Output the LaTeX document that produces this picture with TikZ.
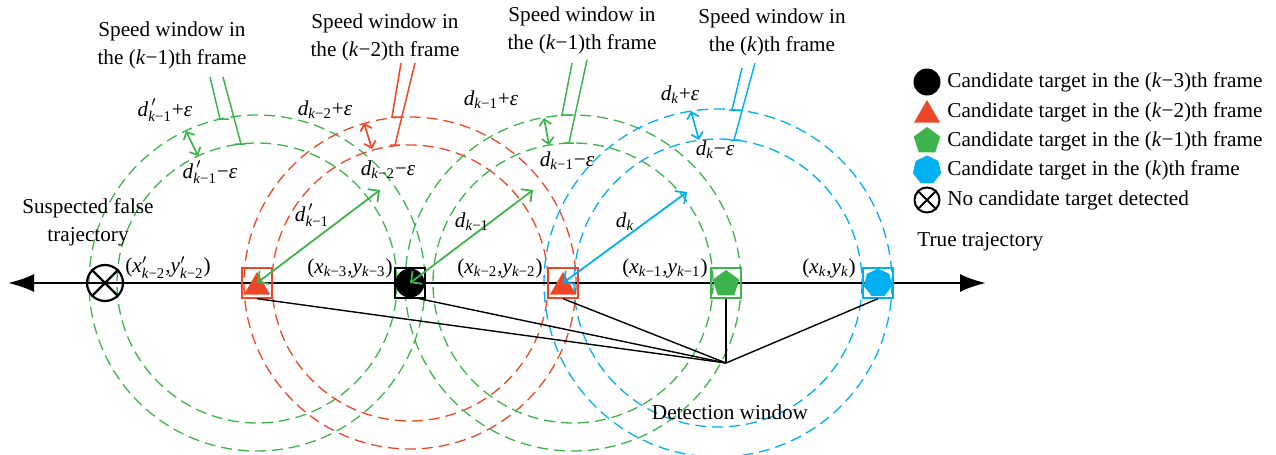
\documentclass[tikz,border=0pt]{standalone}
\usepackage{amsmath}
\usepackage{fontspec}
\setmainfont{Liberation Serif}
\usetikzlibrary{arrows.meta,shapes.geometric}
\definecolor{cg}{RGB}{60,180,75}
\definecolor{cr}{RGB}{236,72,40}
\definecolor{cc}{RGB}{0,176,240}
\newcommand{\ki}[1]{\text{\textit{k}#1}}
\begin{document}
\begin{tikzpicture}[x=0.5pt,y=-0.5pt,
  every node/.style={font=\fontsize{10.6}{14}\selectfont, inner sep=0pt},
  ring/.style={dash pattern=on 5.5pt off 3pt, line width=0.65pt},
  lead/.style={line width=0.75pt},
  gap/.style={line width=0.85pt, {Straight Barb[length=3pt,width=6pt]}-{Straight Barb[length=3pt,width=6pt]}},
  rad/.style={line width=0.9pt, {Straight Barb[length=4pt,width=8pt]}-{Straight Barb[length=4pt,width=8pt]}},
  box/.style={draw, line width=0.65pt, minimum size=15pt, inner sep=0pt},
  link/.style={line width=0.7pt},
  tri/.style={regular polygon, regular polygon sides=3, fill=cr, minimum size=15pt, inner sep=0pt},
  pent/.style={regular polygon, regular polygon sides=5, fill=cg, minimum size=14pt, inner sep=0pt},
  hept/.style={regular polygon, regular polygon sides=7, fill=cc, minimum size=14.5pt, inner sep=0pt},
  dot/.style={circle, fill=black, minimum size=13.5pt, inner sep=0pt},
  none/.style={circle, draw, line width=1.1pt, inner sep=0pt},
]
\useasboundingbox (0,0) rectangle (1276,455);
% speed-window rings
\begin{scope}
\clip (0,0) rectangle (1276,455);
\draw[ring,cg] (257,283) circle[radius=140];
\draw[ring,cg] (257,283) circle[radius=168];
\draw[ring,cr] (410,283) circle[radius=138];
\draw[ring,cr] (410,283) circle[radius=166];
\draw[ring,cg] (573,283) circle[radius=140];
\draw[ring,cg] (573,283) circle[radius=168];
\draw[ring,cc] (718,283) circle[radius=144];
\draw[ring,cc] (718,283) circle[radius=174];
\end{scope}

% axis
\coordinate (axL) at (8,283);
\coordinate (axR) at (986,283);
\draw[line width=1.25pt, {Latex[length=13pt,width=9pt]}-{Latex[length=13pt,width=9pt]}] (axL) -- (axR);

% markers
\node[none, minimum size=18pt] (m0) at (105,283) {};
\draw[line width=1.1pt] (m0.45) -- (m0.225) (m0.135) -- (m0.315);
\node[tri] (s1) at (257,287) {};
\node[box, cr] (m1) at (257,283) {};
\node[dot, minimum size=14.5pt] (s2) at (410,283) {};
\node[box, black] (m2) at (410,283) {};
\node[tri] (s3) at (563,287) {};
\node[box, cr] (m3) at (563,283) {};
\node[pent] (s4) at (726,284) {};
\node[box, cg] (m4) at (726,283) {};
\node[hept] (s5) at (878,283) {};
\node[box, cc] (m5) at (878,283) {};

% detection window
\coordinate (dw) at (726,363);
\draw[link] (m1.south) -- (dw);
\draw[link] (m2.-60) -- (dw);
\draw[link] (m3.south) -- (dw);
\draw[link] (m4.south) -- (dw);
\draw[link] (m5.south) -- (dw);
\node (dwl) at (730,412) {Detection window};

% radius arrows
\coordinate (a1) at (380,190);
\coordinate (a2) at (533,190);
\coordinate (a3) at (687,192);
\draw[rad,cg] (m1.center) -- (a1);
\draw[rad,cg] (m2.center) -- (a2);
\draw[rad,cc] (m3.center) -- (a3);
\node (r1) at (312,215) {$\textit{d}^{\,\prime}_{\ki{−1}}$};
\node (r2) at (472,222) {$\textit{d}_{\ki{−1}}$};
\node (r3) at (625,222) {$\textit{d}_{\textit{k}}$};

% ring gaps
\coordinate (g1a) at (186,131); \coordinate (g1b) at (198,156);
\coordinate (g2a) at (364,123); \coordinate (g2b) at (372,149);
\coordinate (g3a) at (544,118); \coordinate (g3b) at (549,145);
\coordinate (g4a) at (691,111); \coordinate (g4b) at (699,140);
\draw[gap,cg] (g1a) -- (g1b);
\draw[gap,cr] (g2a) -- (g2b);
\draw[gap,cg] (g3a) -- (g3b);
\draw[gap,cc] (g4a) -- (g4b);
\node (e1p) at (165,110) {$\textit{d}^{\,\prime}_{\ki{−1}}$+\textit{ε}};
\node (e1m) at (210,172) {$\textit{d}^{\,\prime}_{\ki{−1}}$−\textit{ε}};
\node (e2p) at (325,110) {$\textit{d}_{\ki{−2}}$+\textit{ε}};
\node (e2m) at (388,170) {$\textit{d}_{\ki{−2}}$−\textit{ε}};
\node (e3p) at (491,100) {$\textit{d}_{\ki{−1}}$+\textit{ε}};
\node (e3m) at (567,161) {$\textit{d}_{\ki{−1}}$−\textit{ε}};
\node (e4p) at (680,95) {$\textit{d}_{\textit{k}}$+\textit{ε}};
\node (e4m) at (715,150) {$\textit{d}_{\textit{k}}$−\textit{ε}};

% speed window labels and leaders
\node[align=center] (w1) at (172,45) {Speed window in\\the (\textit{k}−1)th frame};
\node[align=center] (w2) at (385,37) {Speed window in\\the (\textit{k}−2)th frame};
\node[align=center] (w3) at (582,30) {Speed window in\\the (\textit{k}−1)th frame};
\node[align=center] (w4) at (772,32) {Speed window in\\the (\textit{k})th frame};
\coordinate (w1a) at (210,77); \coordinate (w1b) at (220,119);
\coordinate (w1c) at (223,77); \coordinate (w1d) at (241,144);
\coordinate (w2a) at (401,63); \coordinate (w2b) at (392,117);
\coordinate (w2c) at (415,63); \coordinate (w2d) at (395,145);
\coordinate (w3a) at (572,63); \coordinate (w3b) at (562,115);
\coordinate (w3c) at (587,60); \coordinate (w3d) at (569,143);
\coordinate (w4a) at (742,68); \coordinate (w4b) at (732,110);
\coordinate (w4c) at (755,63); \coordinate (w4d) at (734,140);
\draw[lead,cg] (w1a) -- (w1b) ++(-3,0) -- ++(12,0);
\draw[lead,cg] (w1c) -- (w1d) ++(-6,0) -- ++(10,0);
\draw[lead,cr] (w2a) -- (w2b) ++(-1,0) -- ++(11,0);
\draw[lead,cr] (w2c) -- (w2d) ++(-5,0) -- ++(10,0);
\draw[lead,cg] (w3a) -- (w3b) ++(-1,0) -- ++(11,0);
\draw[lead,cg] (w3c) -- (w3d) ++(-5,0) -- ++(10,0);
\draw[lead,cc] (w4a) -- (w4b) ++(-3,0) -- ++(12,0);
\draw[lead,cc] (w4c) -- (w4d) ++(-4,0) -- ++(10,0);

% coordinate labels
\node (c0) at (168,268) {(\textit{x}$^{\prime}_{\ki{−2}}$,\textit{y}$^{\prime}_{\ki{−2}}$)};
\node (c1) at (350,268) {(\textit{x}$_{\ki{−3}}$,\textit{y}$_{\ki{−3}}$)};
\node (c2) at (500,268) {(\textit{x}$_{\ki{−2}}$,\textit{y}$_{\ki{−2}}$)};
\node (c3) at (665,268) {(\textit{x}$_{\ki{−1}}$,\textit{y}$_{\ki{−1}}$)};
\node (c4) at (829,268) {(\textit{x}$_{\textit{k}}$,\textit{y}$_{\textit{k}}$)};
\node[align=center] (sft) at (88,222) {Suspected false\\trajectory};
\node[anchor=west] (tt) at (917,242) {True trajectory};

% legend
\node[dot] (l1) at (927,82) {};
\node[tri] (l2) at (927,115) {};
\node[pent] (l3) at (927,141) {};
\node[hept] (l4) at (927,170) {};
\node[none, minimum size=12.5pt, line width=1pt] (l5) at (927,200) {};
\draw[line width=1pt] (l5.45) -- (l5.225) (l5.135) -- (l5.315);
\node[anchor=west] (t1) at (947,82) {Candidate target in the (\textit{k}−3)th frame};
\node[anchor=west] (t2) at (947,112) {Candidate target in the (\textit{k}−2)th frame};
\node[anchor=west] (t3) at (947,141) {Candidate target in the (\textit{k}−1)th frame};
\node[anchor=west] (t4) at (947,170) {Candidate target in the (\textit{k})th frame};
\node[anchor=west] (t5) at (947,200) {No candidate target detected};
\end{tikzpicture}
\end{document}
